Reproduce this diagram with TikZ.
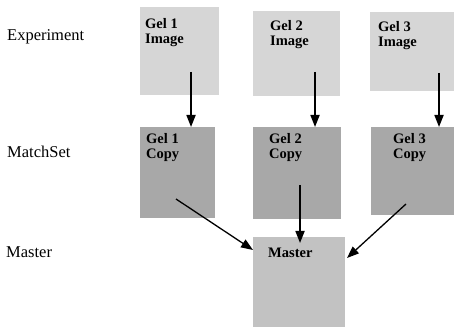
\documentclass[tikz,border=0pt]{standalone}
\usepackage{fontspec}
\setmainfont{Liberation Serif}
\usetikzlibrary{arrows.meta}
\definecolor{imgfill}{gray}{0.84}
\definecolor{copyfill}{gray}{0.66}
\definecolor{mastfill}{gray}{0.76}
\tikzset{
  gelbox/.style={draw=none, inner sep=0pt, anchor=north west},
  boxtext/.style={anchor=north west, inner sep=0pt, align=left,
    font=\fontsize{14.5}{15.5}\selectfont\bfseries},
  rowlabel/.style={anchor=west, inner sep=0pt, font=\fontsize{16.5}{18}\selectfont},
  flow/.style={line width=1.7pt, -{Triangle[length=12pt,width=9pt]}}
}
\begin{document}
\begin{tikzpicture}[x=1pt,y=-1pt]
\useasboundingbox (0,0) rectangle (454,328);
% row labels
\node[rowlabel] (lexp) at (7,37) {Experiment};
\node[rowlabel] (lms) at (7,152) {MatchSet};
\node[rowlabel] (lmas) at (6,252) {Master};
% boxes
\node[gelbox, fill=imgfill, minimum width=79pt, minimum height=88pt] (img1) at (140,7) {};
\node[gelbox, fill=imgfill, minimum width=87pt, minimum height=85pt] (img2) at (253,11) {};
\node[gelbox, fill=imgfill, minimum width=84pt, minimum height=79pt] (img3) at (370,12) {};
\node[gelbox, fill=copyfill, minimum width=75pt, minimum height=91pt] (cp1) at (140,127) {};
\node[gelbox, fill=copyfill, minimum width=88pt, minimum height=92pt] (cp2) at (253,127) {};
\node[gelbox, fill=copyfill, minimum width=83pt, minimum height=88pt] (cp3) at (371,127) {};
\node[gelbox, fill=mastfill, minimum width=92pt, minimum height=90pt] (mas) at (253,237) {};
% box texts
\node[boxtext] (t1) at (145,18) {Gel 1\\Image};
\node[boxtext] (t2) at (270,20) {Gel 2\\Image};
\node[boxtext] (t3) at (378,21) {Gel 3\\Image};
\node[boxtext] (c1) at (146,133) {Gel 1\\Copy};
\node[boxtext] (c2) at (269,133) {Gel 2\\Copy};
\node[boxtext] (c3) at (393,133) {Gel 3\\Copy};
\node[boxtext] (m) at (268,248) {Master};
% arrow start points
\coordinate (s1) at (191,72);
\coordinate (s2) at (315,72);
\coordinate (s3) at (439,73);
\coordinate (s4) at (300,185);
\coordinate (s5) at (176,199);
\coordinate (s6) at (406,204);
\coordinate (e5) at (253,250);
\coordinate (e6) at (347,258);
\draw[flow] (s1) -- (s1 |- cp1.north);
\draw[flow] (s2) -- (s2 |- cp2.north);
\draw[flow] (s3) -- (s3 |- cp3.north);
\draw[flow] (s4) -- ([yshift=-6pt]s4 |- mas.north);
\draw[flow, line width=1.3pt] (s5) -- (e5);
\draw[flow, line width=1.3pt] (s6) -- (e6);
\end{tikzpicture}
\end{document}
